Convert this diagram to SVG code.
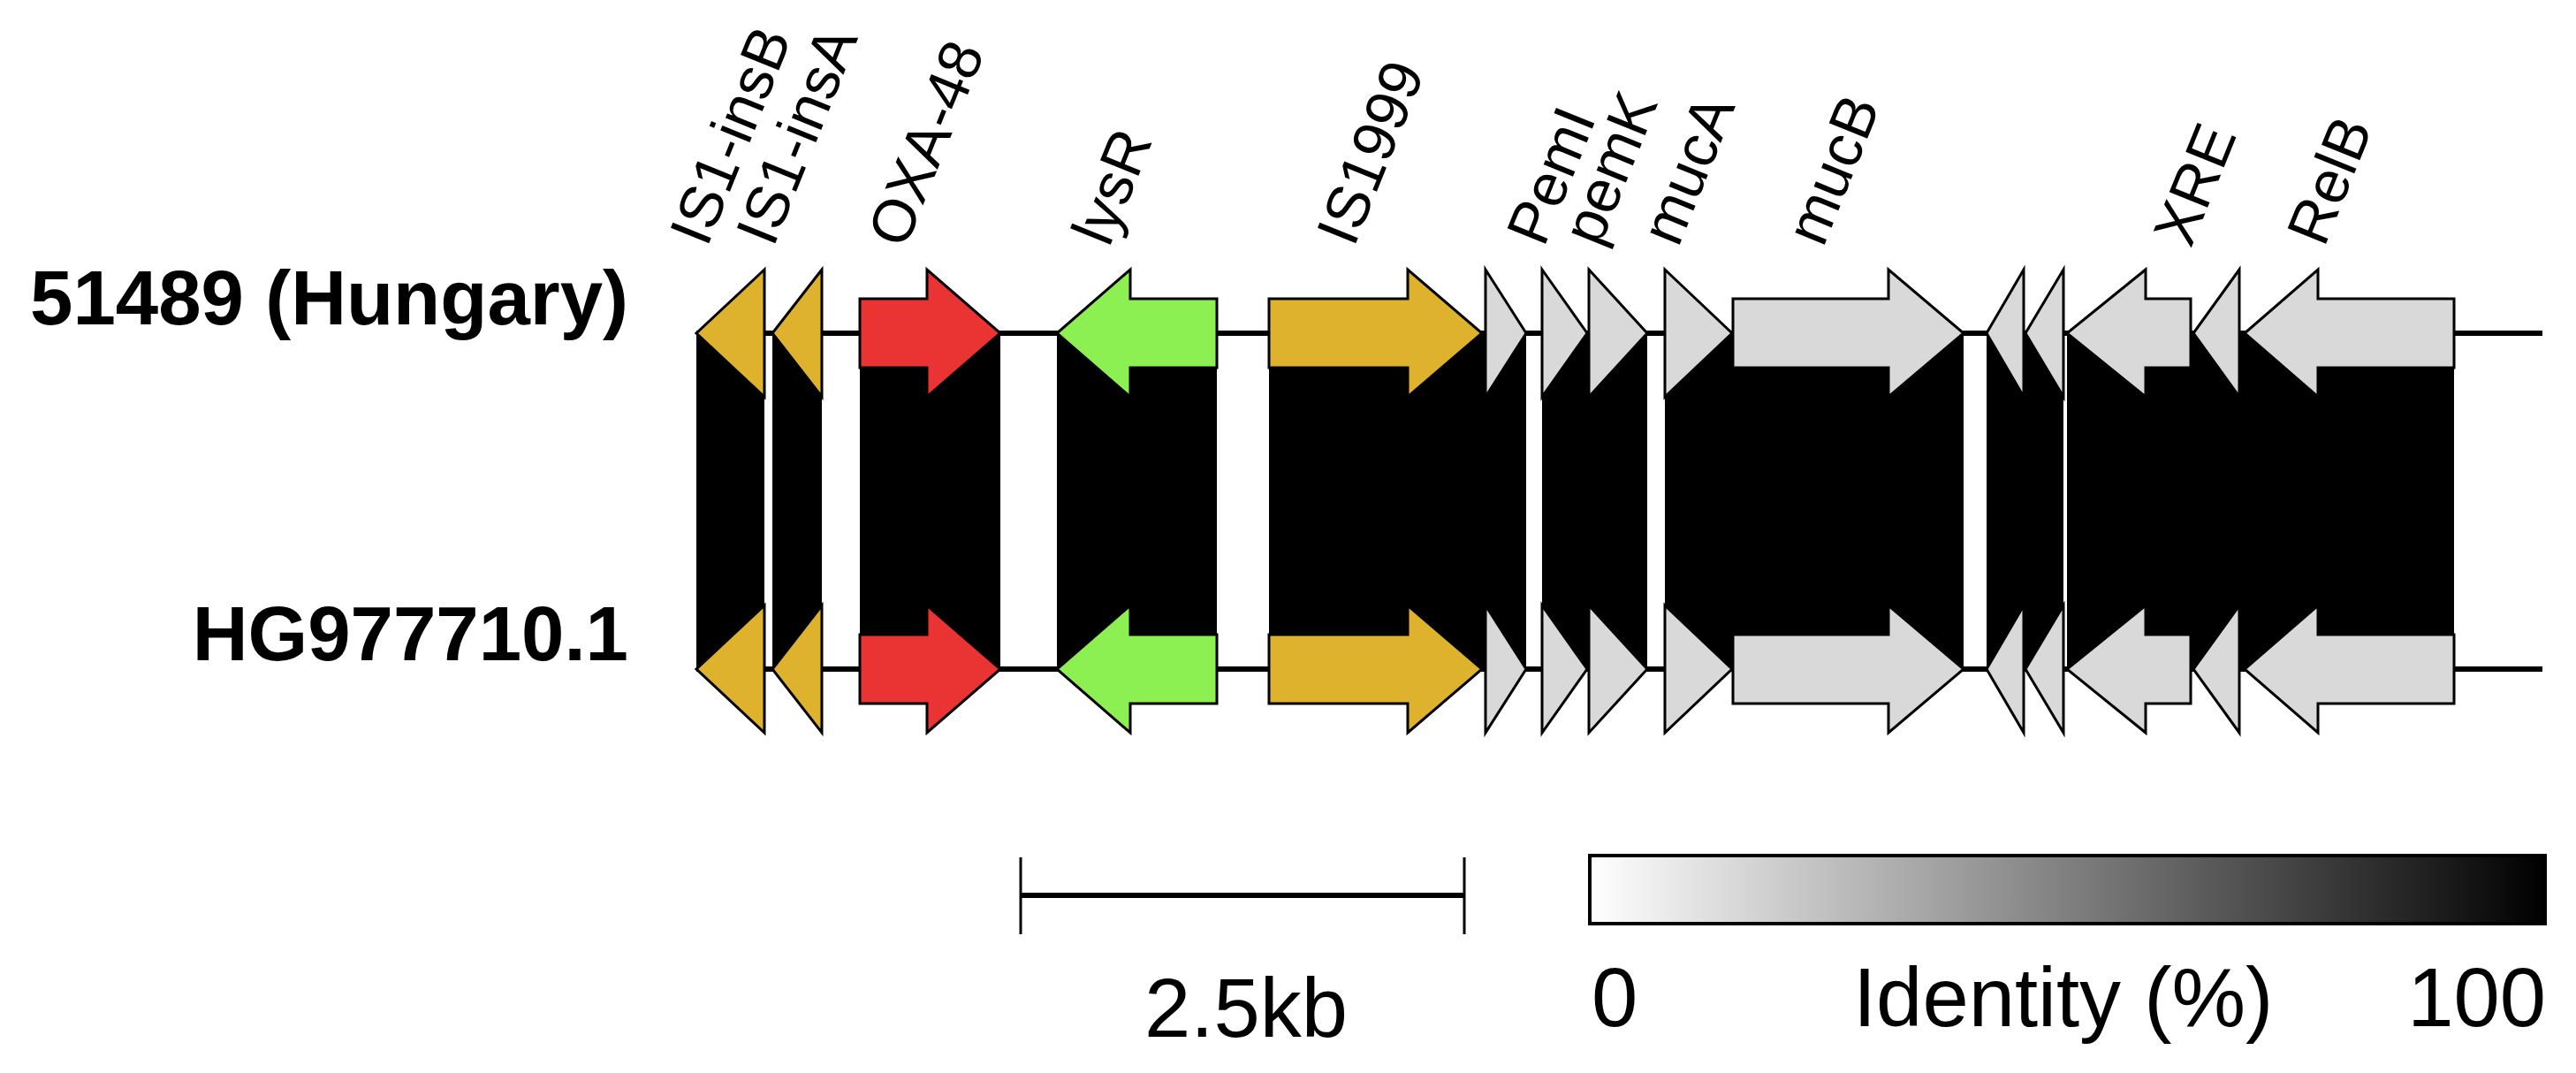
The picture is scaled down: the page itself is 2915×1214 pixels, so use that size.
<svg xmlns="http://www.w3.org/2000/svg" xmlns:xlink="http://www.w3.org/1999/xlink" width="2915" height="1214" viewBox="0 0 2915 1214">
<style>
.gene{stroke:#000;stroke-width:3;stroke-linejoin:miter}
.gold{fill:#DFB22E}.red{fill:#EA3333}.green{fill:#8DF052}.gray{fill:#D9D9D9}
.lbl{font-family:"Liberation Sans",Arial,sans-serif;font-size:68px;fill:#000}
.name{font-family:"Liberation Sans",Arial,sans-serif;font-size:87px;font-weight:bold;fill:#000;text-anchor:end}
.leg{font-family:"Liberation Sans",Arial,sans-serif;font-size:94px;fill:#000}
.track{stroke:#000;stroke-width:6}
.blk{fill:#000}
</style>
<defs>
<linearGradient id="idgrad" x1="0" y1="0" x2="1" y2="0">
<stop offset="0" stop-color="#FFFFFF"/>
<stop offset="1" stop-color="#000000"/>
</linearGradient>
<polygon id="s1" points="865,305 788,377 865,449"/>
<polygon id="s2" points="930,305 874,377 930,449"/>
<polygon id="s3" points="973,338 1049,338 1049,305 1132,377 1049,449 1049,416 973,416"/>
<polygon id="s4" points="1377,338 1279,338 1279,305 1196,377 1279,449 1279,416 1377,416"/>
<polygon id="s5" points="1436,338 1593,338 1593,305 1677,377 1593,449 1593,416 1436,416"/>
<polygon id="s6" points="1681,305 1727,377 1681,449"/>
<polygon id="s7" points="1745,305 1796,377 1745,449"/>
<polygon id="s8" points="1798,305 1864,377 1798,449"/>
<polygon id="s9" points="1884,305 1960,377 1884,449"/>
<polygon id="s10" points="1961,338 2137,338 2137,305 2222,377 2137,449 2137,416 1961,416"/>
<polygon id="s11" points="2290,305 2248,377 2290,449"/>
<polygon id="s12" points="2335,305 2292,377 2335,449"/>
<polygon id="s13" points="2479,338 2428,338 2428,305 2339,377 2428,449 2428,416 2479,416"/>
<polygon id="s14" points="2534,305 2482,377 2534,449"/>
<polygon id="s15" points="2777,338 2623,338 2623,305 2540,377 2623,449 2623,416 2777,416"/>
</defs>

<!-- comparison blocks (connectors between the two tracks) -->
<g id="connectors">
<rect class="blk" x="788" y="377" width="77" height="380"/>
<rect class="blk" x="874" y="377" width="56" height="380"/>
<rect class="blk" x="973" y="377" width="159" height="380"/>
<rect class="blk" x="1196" y="377" width="181" height="380"/>
<rect class="blk" x="1436" y="377" width="291" height="380"/>
<rect class="blk" x="1745" y="377" width="119" height="380"/>
<rect class="blk" x="1884" y="377" width="338" height="380"/>
<rect class="blk" x="2248" y="377" width="87" height="380"/>
<rect class="blk" x="2339" y="377" width="438" height="380"/>
</g>

<!-- backbone lines -->
<g id="backbones">
<line class="track" x1="788" y1="377" x2="2877" y2="377"/>
<line class="track" x1="788" y1="757" x2="2877" y2="757"/>
</g>

<!-- top track: 51489 (Hungary) -->
<g id="track-top">
<text class="name" x="711" y="367">51489 (Hungary)</text>
<g id="top-IS1-insB"><use href="#s1" class="gene gold"/></g>
<g id="top-IS1-insA"><use href="#s2" class="gene gold"/></g>
<g id="top-OXA-48"><use href="#s3" class="gene red"/></g>
<g id="top-lysR"><use href="#s4" class="gene green"/></g>
<g id="top-IS1999"><use href="#s5" class="gene gold"/></g>
<g id="top-g6"><use href="#s6" class="gene gray"/></g>
<g id="top-PemI"><use href="#s7" class="gene gray"/></g>
<g id="top-pemK"><use href="#s8" class="gene gray"/></g>
<g id="top-mucA"><use href="#s9" class="gene gray"/></g>
<g id="top-mucB"><use href="#s10" class="gene gray"/></g>
<g id="top-g11"><use href="#s11" class="gene gray"/></g>
<g id="top-g12"><use href="#s12" class="gene gray"/></g>
<g id="top-g13"><use href="#s13" class="gene gray"/></g>
<g id="top-XRE"><use href="#s14" class="gene gray"/></g>
<g id="top-RelB"><use href="#s15" class="gene gray"/></g>
</g>

<!-- bottom track: HG977710.1 -->
<g id="track-bottom">
<text class="name" x="711" y="747">HG977710.1</text>
<g id="bot-IS1-insB"><use href="#s1" y="380" class="gene gold"/></g>
<g id="bot-IS1-insA"><use href="#s2" y="380" class="gene gold"/></g>
<g id="bot-OXA-48"><use href="#s3" y="380" class="gene red"/></g>
<g id="bot-lysR"><use href="#s4" y="380" class="gene green"/></g>
<g id="bot-IS1999"><use href="#s5" y="380" class="gene gold"/></g>
<g id="bot-g6"><use href="#s6" y="380" class="gene gray"/></g>
<g id="bot-PemI"><use href="#s7" y="380" class="gene gray"/></g>
<g id="bot-pemK"><use href="#s8" y="380" class="gene gray"/></g>
<g id="bot-mucA"><use href="#s9" y="380" class="gene gray"/></g>
<g id="bot-mucB"><use href="#s10" y="380" class="gene gray"/></g>
<g id="bot-g11"><use href="#s11" y="380" class="gene gray"/></g>
<g id="bot-g12"><use href="#s12" y="380" class="gene gray"/></g>
<g id="bot-g13"><use href="#s13" y="380" class="gene gray"/></g>
<g id="bot-XRE"><use href="#s14" y="380" class="gene gray"/></g>
<g id="bot-RelB"><use href="#s15" y="380" class="gene gray"/></g>
</g>

<!-- gene labels -->
<g id="labels">
<text class="lbl" transform="translate(800,281) rotate(-68)">IS1-insB</text>
<text class="lbl" transform="translate(875,281) rotate(-68)">IS1-insA</text>
<text class="lbl" transform="translate(1024,283) rotate(-68)">OXA-48</text>
<text class="lbl" transform="translate(1255,281) rotate(-68)">lysR</text>
<text class="lbl" transform="translate(1532,281) rotate(-68)">IS1999</text>
<text class="lbl" transform="translate(1747,281) rotate(-68)">PemI</text>
<text class="lbl" transform="translate(1810,281) rotate(-68)">pemK</text>
<text class="lbl" transform="translate(1899,281) rotate(-68)">mucA</text>
<text class="lbl" transform="translate(2063,281) rotate(-68)">mucB</text>
<text class="lbl" transform="translate(2479,282) rotate(-68)">XRE</text>
<text class="lbl" transform="translate(2630,281) rotate(-68)">RelB</text>
</g>

<!-- scale bar -->
<g id="scalebar">
<line x1="1155" y1="1013" x2="1657" y2="1013" stroke="#000" stroke-width="6"/>
<line x1="1155" y1="970" x2="1155" y2="1057" stroke="#000" stroke-width="3"/>
<line x1="1657" y1="970" x2="1657" y2="1057" stroke="#000" stroke-width="3"/>
<text class="leg" x="1295" y="1173">2.5kb</text>
</g>

<!-- identity legend -->
<g id="legend">
<rect x="1799" y="968" width="1081" height="77" fill="url(#idgrad)" stroke="#000" stroke-width="4"/>
<text class="leg" x="1801" y="1161">0</text>
<text class="leg" x="2097" y="1161">Identity (%)</text>
<text class="leg" x="2881" y="1161" text-anchor="end">100</text>
</g>
</svg>
